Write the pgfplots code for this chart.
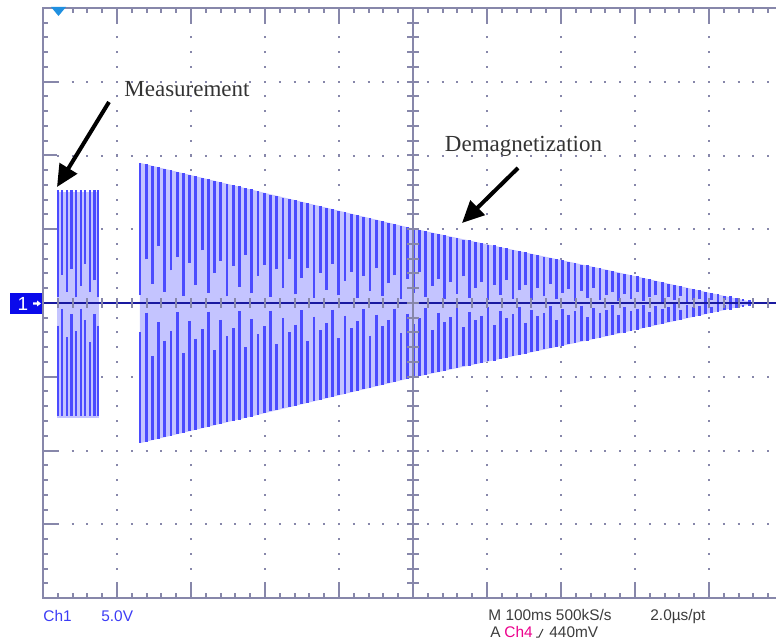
\documentclass[border=0pt]{standalone}
\usepackage{pgfplots}
\pgfplotsset{compat=1.18}
\usepackage{pgfplotstable}
\usepackage{fontspec}
\setmainfont{Liberation Serif}
\newfontfamily\sansf{Liberation Sans}
\usetikzlibrary{arrows.meta}

\definecolor{gridc}{RGB}{135,135,170}
\definecolor{fillc}{RGB}{196,196,255}
\definecolor{stripec}{RGB}{75,75,255}
\definecolor{tracec}{RGB}{25,25,160}
\definecolor{boxc}{RGB}{10,10,235}
\definecolor{markc}{RGB}{32,144,224}
\definecolor{chc}{RGB}{60,60,245}
\definecolor{txtc}{RGB}{60,60,60}

\pgfplotstableread{
x e ft fb
1.310 1.90 0.08 0.30
1.394 1.88 0.45 0.10
1.478 1.86 0.20 0.55
1.562 1.84 0.60 0.20
1.646 1.82 0.12 0.40
1.730 1.80 0.35 0.30
1.814 1.78 0.50 0.10
1.898 1.76 0.08 0.55
1.982 1.74 0.45 0.20
2.066 1.72 0.20 0.40
2.150 1.70 0.60 0.30
2.234 1.68 0.12 0.10
2.318 1.66 0.35 0.55
2.402 1.64 0.50 0.20
2.486 1.62 0.08 0.40
2.570 1.60 0.45 0.30
2.654 1.58 0.20 0.10
2.738 1.56 0.60 0.55
2.822 1.54 0.12 0.20
2.906 1.52 0.35 0.40
2.990 1.49 0.50 0.30
3.074 1.47 0.08 0.10
3.158 1.45 0.45 0.55
3.242 1.43 0.20 0.20
3.326 1.41 0.60 0.40
3.410 1.39 0.12 0.30
3.494 1.37 0.35 0.10
3.578 1.35 0.50 0.55
3.662 1.33 0.08 0.20
3.746 1.31 0.45 0.40
3.830 1.29 0.20 0.30
3.914 1.27 0.60 0.10
3.998 1.25 0.12 0.55
4.082 1.23 0.35 0.20
4.166 1.21 0.50 0.40
4.250 1.19 0.08 0.30
4.334 1.17 0.45 0.10
4.418 1.15 0.20 0.55
4.502 1.13 0.60 0.20
4.586 1.11 0.12 0.40
4.670 1.09 0.35 0.30
4.754 1.07 0.50 0.10
4.838 1.05 0.08 0.55
4.922 1.03 0.45 0.20
5.006 1.01 0.20 0.40
5.090 0.99 0.60 0.30
5.174 0.97 0.12 0.10
5.258 0.95 0.35 0.55
5.342 0.94 0.50 0.20
5.426 0.92 0.08 0.40
5.510 0.90 0.45 0.30
5.594 0.88 0.20 0.10
5.678 0.86 0.60 0.55
5.762 0.85 0.12 0.20
5.846 0.83 0.35 0.40
5.930 0.81 0.50 0.30
6.014 0.79 0.08 0.10
6.098 0.78 0.45 0.55
6.182 0.76 0.20 0.20
6.266 0.74 0.60 0.40
6.350 0.72 0.12 0.30
6.434 0.70 0.35 0.10
6.518 0.69 0.50 0.55
6.602 0.67 0.08 0.20
6.686 0.65 0.45 0.40
6.770 0.63 0.20 0.30
6.854 0.61 0.60 0.10
6.938 0.60 0.12 0.55
7.022 0.58 0.35 0.20
7.106 0.56 0.50 0.40
7.190 0.54 0.08 0.30
7.274 0.52 0.45 0.10
7.358 0.51 0.20 0.55
7.442 0.49 0.60 0.20
7.526 0.47 0.12 0.40
7.610 0.45 0.35 0.30
7.694 0.43 0.50 0.10
7.778 0.41 0.08 0.55
7.862 0.40 0.45 0.20
7.946 0.38 0.20 0.40
8.030 0.36 0.60 0.30
8.114 0.34 0.12 0.10
8.198 0.32 0.35 0.55
8.282 0.30 0.50 0.20
8.366 0.28 0.08 0.40
8.450 0.26 0.45 0.30
8.534 0.25 0.20 0.10
8.618 0.23 0.60 0.55
8.702 0.21 0.12 0.20
8.786 0.19 0.35 0.40
8.870 0.17 0.50 0.30
8.954 0.15 0.08 0.10
9.038 0.13 0.45 0.55
9.122 0.12 0.20 0.20
9.206 0.10 0.60 0.40
9.290 0.09 0.12 0.30
9.374 0.07 0.35 0.10
9.458 0.06 0.50 0.55
9.542 0.04 0.08 0.20
9.626 0.02 0.45 0.40
}\demag

\pgfplotstableread{
x e ft fb
0.200 1.53 0.05 0.20
0.262 1.53 0.25 0.05
0.324 1.53 0.10 0.30
0.386 1.53 0.30 0.10
0.448 1.53 0.05 0.25
0.510 1.53 0.15 0.05
0.572 1.53 0.35 0.15
0.634 1.53 0.10 0.35
0.696 1.53 0.20 0.10
0.745 1.53 0.05 0.20
}\meas

\begin{document}
\begin{tikzpicture}
\useasboundingbox (0,0) rectangle (388pt,321.5pt);
\begin{axis}[at={(21.5pt,22.5pt)}, anchor=south west, scale only axis,
  width=366.5pt, height=295pt, xmin=0, xmax=9.905, ymin=-4, ymax=4,
  hide axis, clip=false]
% dotted grid
\pgfplotsinvokeforeach{1,2,3,4,6,7,8,9}{
  \draw[gridc, line width=1pt, dash pattern=on 1pt off 6.375pt, dash phase=0.5pt]
    (axis cs:#1,-4) -- (axis cs:#1,4);
}
\pgfplotsinvokeforeach{-3,-2,-1,1,2,3}{
  \draw[gridc, line width=1pt, dash pattern=on 1pt off 6.4pt, dash phase=0.5pt]
    (axis cs:0,#1) -- (axis cs:9.905,#1);
}
% frame
\draw[gridc, line width=1pt] (axis cs:9.905,4) -- (axis cs:0,4) -- (axis cs:0,-4) -- (axis cs:9.905,-4);
% frame ticks (minor and major)
\draw[gridc, line width=2.5pt, dash pattern=on 1pt off 6.375pt, dash phase=0.5pt]
  ([xshift=1.25pt]axis cs:0,-4) -- ([xshift=1.25pt]axis cs:0,4);
\draw[gridc, line width=7pt, dash pattern=on 1pt off 35.875pt, dash phase=0.5pt]
  ([xshift=3.5pt]axis cs:0,-4) -- ([xshift=3.5pt]axis cs:0,4);
\draw[gridc, line width=2.5pt, dash pattern=on 1pt off 6.4pt, dash phase=0.5pt]
  ([yshift=-1.25pt]axis cs:0,4) -- ([yshift=-1.25pt]axis cs:9.905,4);
\draw[gridc, line width=7pt, dash pattern=on 1pt off 36pt, dash phase=0.5pt]
  ([yshift=-3.5pt]axis cs:0,4) -- ([yshift=-3.5pt]axis cs:9.905,4);
\draw[gridc, line width=2.5pt, dash pattern=on 1pt off 6.4pt, dash phase=0.5pt]
  ([yshift=1.25pt]axis cs:0,-4) -- ([yshift=1.25pt]axis cs:9.905,-4);
\draw[gridc, line width=7pt, dash pattern=on 1pt off 36pt, dash phase=0.5pt]
  ([yshift=3.5pt]axis cs:0,-4) -- ([yshift=3.5pt]axis cs:9.905,-4);

% waveform envelopes
\addplot[fill=fillc, draw=none] coordinates {(1.31,1.9) (5.0,1.01) (7.62,0.45) (9.0,0.14) (9.65,0) (9.0,-0.14) (7.62,-0.45) (5.0,-1.01) (1.31,-1.9)} -- cycle;
\addplot[fill=fillc, draw=none] coordinates {(0.19,1.51) (0.757,1.51) (0.757,-1.56) (0.19,-1.56)} -- cycle;
% stripes
\addplot[stripec, line width=1.4pt, no markers, quiver={u=0, v=\thisrow{e}*(1-0.7*\thisrow{ft})}]
  table[x=x, y expr=0.7*\thisrow{e}*\thisrow{ft}] {\demag};
\addplot[stripec, line width=1.4pt, no markers, quiver={u=0, v=-\thisrow{e}*(1-0.7*\thisrow{fb})}]
  table[x=x, y expr=-0.7*\thisrow{e}*\thisrow{fb}] {\demag};
\addplot[stripec, line width=1.1pt, no markers, quiver={u=0, v=\thisrow{e}*(1-\thisrow{ft})}]
  table[x=x, y expr=\thisrow{e}*\thisrow{ft}] {\meas};
\addplot[stripec, line width=1.1pt, no markers, quiver={u=0, v=-\thisrow{e}*(1-\thisrow{fb})}]
  table[x=x, y expr=-\thisrow{e}*\thisrow{fb}] {\meas};
% baseline trace
\addplot[tracec, line width=1.2pt, no markers] coordinates {(0,0) (9.905,0)};
% center cross with ticks
\draw[gridc, line width=0.8pt] (axis cs:5,-4) -- (axis cs:5,4);
\draw[gridc, line width=6pt, dash pattern=on 1pt off 6.375pt, dash phase=0.5pt]
  (axis cs:5,-4) -- (axis cs:5,4);
\draw[gridc, line width=5pt, dash pattern=on 1pt off 6.4pt, dash phase=0.5pt]
  (axis cs:0,0) -- (axis cs:9.905,0);
\end{axis}

\begin{scope}[x=0.5pt, y=-0.5pt, shift={(0pt,321.5pt)}]
\fill[markc] (51,7) -- (66,7) -- (58.5,16) -- cycle;
\fill[boxc] (10,293) rectangle (42,314);
\node[text=white, font=\sansf\fontsize{9.5}{10}\selectfont, inner sep=0] at (23,303.5) {1};
\fill[white] (33,302.3) -- (37,302.3) -- (37,300.5) -- (41,303.5) -- (37,306.5) -- (37,304.7) -- (33,304.7) -- cycle;

\draw[line width=2pt, -{Triangle[length=11pt, width=10pt]}] (109,102) -- (57,187);
\draw[line width=2pt, -{Triangle[length=11pt, width=10pt]}] (518,168) -- (462,223);

\node[anchor=base, inner sep=0, font=\fontsize{11.5}{12}\selectfont, text=black!80] at (187,97) {Measurement};
\node[anchor=base, inner sep=0, font=\fontsize{11.5}{12}\selectfont, text=black!80] at (523.5,152) {Demagnetization};

\begin{scope}[every node/.style={anchor=base west, inner sep=0, font=\sansf\fontsize{7.7}{8}\selectfont}]
\node[text=chc] at (43,621) {Ch1};
\node[text=chc] at (101,621) {5.0V};
\node[text=txtc] at (488,620) {M 100ms 500kS/s};
\node[text=txtc] at (650,620) {2.0µs/pt};
\node[text=txtc] at (490,637) {A};
\node[text=magenta] at (504,637) {Ch4};
\node[text=txtc] at (549,637) {440mV};
\end{scope}
\draw[txtc, line width=0.5pt] (536,637) -- (539,637) -- (543,629);
\end{scope}
\end{tikzpicture}
\end{document}
